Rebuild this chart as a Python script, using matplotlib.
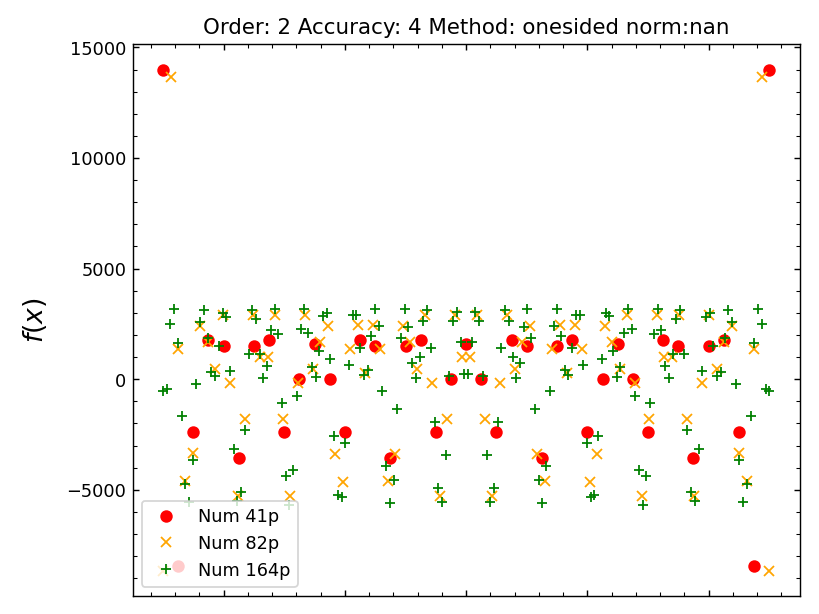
#!/usr/bin/env python3
"""
Second derivative, 4th-order accuracy, one-sided stencil at the edges:
numerical values on three grids (41, 82, 164 points) over x in [-1.25, 1.25].
"""
import numpy as np
import matplotlib
matplotlib.use("Agg")
import matplotlib.pyplot as plt

X_LO, X_HI = -1.25, 1.25

# values, left to right
NUM_41 = [14000, -8450, -2380, 1750, 1520, -3550, 1520, 1750, -2380, 0,
          1600, 0, -2380, 1750, 1520, -3550, 1520, 1750, -2380, 0,
          1600,
          0, -2380, 1750, 1520, -3550, 1520, 1750, -2380, 0,
          1600, 0, -2380, 1750, 1520, -3550, 1520, 1750, -2380, -8450,
          14000]

NUM_82 = [-8650, 13680, 1370, -4600, -3340, 2400, 1670, 460, 2920, -170,
          -5280, -1780, 2920, 990, 990, 2880, -1780, -5280, -170, 2880,
          460, 1700, 2400, -3360, -4630, 1370, 2450, 280, 2450, 1370,
          -4610, -3360, 2420, 1700, 460, 2920, -170, -5300, -1780, 2920,
          990,
          990, 2920, -1780, -5300, -170, 2920, 460, 1700, 2420, -3360,
          -4610, 1370, 2450, 280, 2450, 1370, -4630, -3360, 2400, 1700,
          460, 2880, -170, -5280, -1780, 2880, 990, 990, 2920, -1780,
          -5280, -170, 2920, 460, 1670, 2400, -3340, -4600, 1370, 13680,
          -8650]

NUM_164 = [-520, -440, 2490, 3170, 1650, -1660, -4730, -5560, -3650, -200,
           2570, 3140, 1840, 330, 160, 1520, 2980, 2800, 360, -3140,
           -5500, -5080, -2290, 1120, 3130, 2720, 1120, 60, 610, 2230,
           3190, 2020, -1060, -4380, -5680, -4100, -760, 2250, 3190, 2080,
           530, 100, 1290, 2840, 3010, 920, -2560, -5220, -5340, -2870,
           650, 2920, 2920, 1400, 170, 400, 1950, 3170, 2400, -520,
           -3920, -5610, -4550, -1360, 1840, 3170, 2370, 720, 60, 1000,
           2610, 3110, 1400, -1930, -4930, -5530, -3420, 130, 2650, 3050,
           1670, 250,
           250, 1670, 3050, 2650, 130, -3420, -5530, -4930, -1930, 1400,
           3110, 2610, 1000, 60, 720, 2370, 3170, 1840, -1360, -4550,
           -5610, -3920, -520, 2400, 3170, 1950, 400, 170, 1400, 2920,
           2920, 650, -2870, -5340, -5220, -2560, 920, 3010, 2840, 1290,
           100, 530, 2080, 3190, 2250, -760, -4100, -5680, -4380, -1060,
           2020, 3190, 2230, 610, 60, 1120, 2720, 3130, 1120, -2290,
           -5080, -5500, -3140, 360, 2800, 2980, 1520, 160, 330, 1840,
           3140, 2570, -200, -3650, -5560, -4730, -1660, 1650, 3170, 2490,
           -440, -520]

SERIES = [("Num 41p", NUM_41, "o", "red"),
          ("Num 82p", NUM_82, "x", "orange"),
          ("Num 164p", NUM_164, "+", "green")]


def main(out="out.png"):
    fig = plt.figure(figsize=(6.4, 4.8), dpi=128)
    ax = fig.add_axes([0.162, 0.030, 0.814, 0.897])

    for label, vals, mk, col in SERIES:
        x = np.linspace(X_LO, X_HI, len(vals))
        ax.plot(x, vals, mk, color=col, ls="none", label=label)

    ax.set_title("Order: 2 Accuracy: 4 Method: onesided norm:nan")
    ax.set_ylabel("$f(x)$", fontsize=15, labelpad=10)
    ax.minorticks_on()
    ax.tick_params(which="both", direction="in", top=True, right=True, labelbottom=False)
    ax.legend(loc="lower left")
    fig.savefig(out, dpi=128)


if __name__ == "__main__":
    main()
